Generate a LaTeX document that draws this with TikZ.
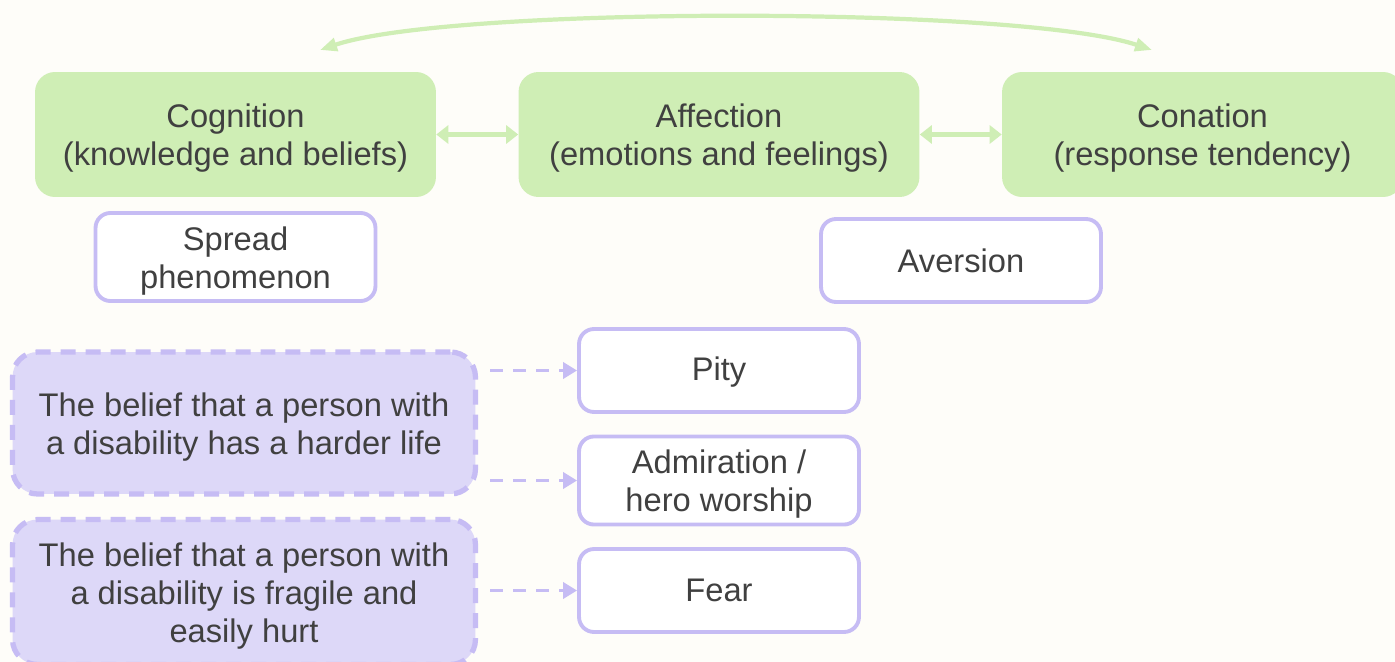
\documentclass[tikz,border=0pt]{standalone}
\usepackage{fontspec}
\setmainfont{Liberation Sans}
\usetikzlibrary{arrows.meta,calc}
\definecolor{bgcream}{HTML}{FEFDF9}
\definecolor{leafgreen}{HTML}{CFEEB5}
\definecolor{lilacline}{HTML}{C6BCF4}
\definecolor{lilacfill}{HTML}{DDD8F8}
\definecolor{inkgray}{HTML}{404040}
% extra room above the first line, so that the text sits a little lower
\newcommand{\toproom}{\rule{0pt}{18pt}}
\tikzset{
	stage/.style={
			fill=leafgreen, rounded corners=0.4cm,
			minimum width=8.02cm, minimum height=2.5cm,
			align=center, text=inkgray
		},
	reaction/.style={
			draw=lilacline, line width=2.2pt, fill=white, rounded corners=0.3cm,
			minimum width=5.6cm, minimum height=1.66cm,
			align=center, text=inkgray
		},
	belief/.style={
			draw=lilacline, line width=3pt, dash pattern=on 0.3cm off 0.2cm,
			fill=lilacfill, rounded corners=0.5cm,
			minimum width=9.26cm, align=center, text=inkgray
		},
	link/.style={
			leafgreen, line width=2.8pt,
			{Triangle[length=0.24cm,width=0.36cm]}-{Triangle[length=0.24cm,width=0.36cm]}
		},
	hint/.style={
			lilacline, line width=2.2pt, dash pattern=on 0.26cm off 0.2cm,
			-{Triangle[length=0.28cm,width=0.32cm]}
		}
}

\begin{document}
\begin{tikzpicture}[x=0.02cm, y=-0.02cm, font=\fontsize{18.6}{21.6}\selectfont]
		\useasboundingbox (0,0) rectangle (1395,662);
		\fill [bgcream] (0,0) rectangle (1395,662);

		% three components of an attitude
		\node [stage] (cog) at (235.5,134.5) {\toproom Cognition\\(knowledge and beliefs)};
		\node [stage] (aff) at (719,134.5) {\toproom Affection\\(emotions and feelings)};
		\node [stage] (con) at (1202.5,134.5) {\toproom Conation\\(response tendency)};

		\draw [link] (cog.east) -- (aff.west);
		\draw [link] (aff.east) -- (con.west);

		\coordinate (arcL) at (320,50);
		\coordinate (arcR) at (1152,50);
		\draw [leafgreen, line width=2.4pt,
			{Triangle[length=0.34cm,width=0.26cm]}-{Triangle[length=0.34cm,width=0.26cm]}]
			(arcL) .. controls (450,6) and (1020,6) .. (arcR);

		% reactions
		\node [reaction] (spread) at (235.5,257) {\toproom Spread\\phenomenon};
		\node [reaction] (aversion) at (961,260.5) {Aversion};
		\node [reaction] (pity) at (719,370.5) {\rule{0pt}{15pt}Pity};
		\node [reaction] (admire) at (719,480.5) {\toproom Admiration /\\hero worship};
		\node [reaction] (fear) at (719,590.5) {Fear};

		% beliefs
		\node [belief, minimum height=2.84cm] (hard) at (244,423)
			{\toproom The belief that a person with\\a disability has a harder life};
		\node [belief, minimum height=2.9cm] (fragile) at (244,592)
			{\toproom The belief that a person with\\a disability is fragile and\\easily hurt};

		\draw [hint, shorten <=0.24cm] (pity.west -| hard.east) -- (pity.west);
		\draw [hint, shorten <=0.24cm] (admire.west -| hard.east) -- (admire.west);
		\draw [hint, shorten <=0.24cm] (fear.west -| fragile.east) -- (fear.west);
	\end{tikzpicture}
\end{document}
